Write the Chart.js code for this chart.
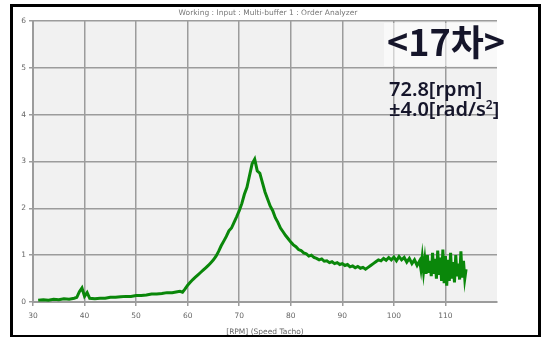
<!DOCTYPE html>
<html><head><meta charset="utf-8">
<script src="https://cdn.jsdelivr.net/npm/chart.js@4/dist/chart.umd.min.js"></script>
<style>
html,body{margin:0;padding:0;background:#fff;}
#wrap{position:relative;width:543px;height:337px;overflow:hidden;}
#frame{position:absolute;left:10px;top:4px;width:525px;height:328px;border:3px solid #000;background:#fff;}
#c{position:absolute;left:0;top:0;}
.t{position:absolute;white-space:nowrap;font-family:"Noto Sans CJK KR","Noto Sans",sans-serif;color:#15152a;}
#ttl{left:0;width:536px;top:8px;text-align:center;font-family:"DejaVu Sans",sans-serif;font-size:7.5px;color:#777;}
#ord{left:387px;top:17px;font-size:36px;font-weight:700;line-height:46px;}
#rpm{left:389px;top:77px;font-family:"Noto Sans",sans-serif;font-size:20px;font-weight:600;line-height:24px;}
#acc{left:389px;top:97px;font-family:"Noto Sans",sans-serif;font-size:20px;font-weight:600;line-height:24px;}
#acc sup{font-size:12px;vertical-align:7px;line-height:0;}
#box{position:absolute;left:384px;top:23px;width:113px;height:43px;background:rgba(255,255,255,0.55);}
</style></head>
<body><div id="wrap">
<div id="frame"></div>
<canvas id="c" width="543" height="337"></canvas>
<div id="ttl" class="t">Working : Input : Multi-buffer 1 : Order Analyzer</div>
<div id="box"></div>
<div id="ord" class="t">&lt;17차&gt;</div>
<div id="rpm" class="t">72.8[rpm]</div>
<div id="acc" class="t">±4.0[rad/s<sup>2</sup>]</div>
</div>
<script>
const xTitle = "[RPM] (Speed Tacho)";
const xTicks = [30,40,50,60,70,80,90,100,110];
const yTicks = [0,1,2,3,4,5,6];
const rpm = [31,32,33,34,35,36,37,38,38.5,39,39.5,40,40.5,41,42,43,44,45,46,47,48,49,50,51,52,53,54,55,56,57,58,58.5,59,59.5,
60,60.5,61,61.5,62,62.5,63,63.5,64,64.5,65,65.5,66,66.5,67,67.5,68,68.5,69,69.5,70,70.5,71,71.5,72,72.5,73,73.5,74,74.5,75,75.5,76,76.5,77,77.5,78,78.5,79,79.5,
80,80.5,81,81.5,82,82.5,83,83.5,84,84.5,85,85.5,86,86.5,87,87.5,88,88.5,89,89.5,90,90.5,91,91.5,92,92.5,93,93.5,94,94.5,95,95.5,96,96.5,97,97.5,98,98.5,99,99.5,
100,100.5,101,101.5,102,102.5,103,103.5,104,104.5,105,
105.25,105.5,105.75,106,106.25,106.5,106.75,107,107.25,107.5,107.75,108,108.25,108.5,108.75,109,109.25,109.5,109.75,110,110.25,110.5,110.75,111,111.25,111.5,111.75,112,112.25,112.5,112.75,113,113.25,113.5,113.75,114];
const amplitude = [0.04,0.05,0.04,0.06,0.05,0.07,0.06,0.08,0.1,0.22,0.3,0.12,0.2,0.08,0.07,0.08,0.08,0.1,0.1,0.11,0.12,0.12,0.14,0.14,0.15,0.17,0.17,0.18,0.2,0.2,0.22,0.23,0.21,0.28,
0.36,0.42,0.48,0.53,0.58,0.63,0.68,0.73,0.78,0.84,0.9,0.98,1.08,1.2,1.3,1.4,1.52,1.58,1.7,1.82,1.95,2.1,2.3,2.45,2.7,2.95,3.05,2.8,2.75,2.55,2.35,2.2,2.05,1.95,1.8,1.7,1.58,1.5,1.42,1.35,
1.28,1.22,1.18,1.12,1.1,1.05,1.03,0.98,1.0,0.95,0.93,0.9,0.92,0.87,0.88,0.84,0.86,0.82,0.84,0.8,0.82,0.78,0.8,0.75,0.77,0.73,0.76,0.72,0.74,0.7,0.74,0.78,0.82,0.86,0.9,0.88,0.93,0.89,0.95,0.9,
0.96,0.88,0.97,0.9,0.95,0.85,0.93,0.82,0.9,0.78,0.88,
0.7,0.95,0.65,0.9,0.6,1.0,0.62,0.88,0.55,1.05,0.6,0.92,0.5,1.1,0.58,0.95,0.45,1.12,0.4,0.98,0.35,0.9,0.45,1.05,0.5,0.85,0.42,1.0,0.55,0.82,0.48,1.08,0.52,0.88,0.5,0.7];

const bgPlugin = {
  id:'bg',
  beforeDraw(chart){
    const {ctx, chartArea:a} = chart;
    ctx.save(); ctx.fillStyle = '#f1f1f1';
    ctx.fillRect(a.left, a.top, a.right-a.left, a.bottom-a.top);
    ctx.restore();
  }
};

new Chart(document.getElementById('c'), {
  type:'line',
  data:{ datasets:[{
    data: rpm.map((x,i)=>({x, y: amplitude[i]})),
    borderColor:'#0a870a', borderWidth:3, pointRadius:0, tension:0, fill:false
  }]},
  options:{
    responsive:false, animation:false, devicePixelRatio:1,
    layout:{padding:{left:13,right:46,top:21,bottom:0}},
    plugins:{legend:{display:false}, tooltip:{enabled:false}},
    scales:{
      x:{type:'linear', min:30, max:120,
        afterBuildTicks(s){ s.ticks = xTicks.concat([120]).map(v=>({value:v})); },
        afterFit(s){ s.height = 35; },
        ticks:{font:{family:'DejaVu Sans',size:7.5}, color:'#666', padding:6, maxRotation:0,
          callback:(v)=> v===120 ? '' : String(v)},
        grid:{color:(c)=> c.tick && c.tick.value===120 ? 'rgba(0,0,0,0)' : '#9c9c9c', lineWidth:1.5, tickLength:4, drawOnChartArea:true},
        border:{display:true,color:'#9c9c9c',width:2},
        title:{display:true,text:xTitle,font:{family:'DejaVu Sans',size:7.5},color:'#666',padding:{top:-1,bottom:0}}
      },
      y:{min:0,max:6,
        afterBuildTicks(s){ s.ticks = yTicks.map(v=>({value:v})); },
        afterFit(s){ s.width = 20; },
        ticks:{font:{family:'DejaVu Sans',size:7.5}, color:'#666', padding:3},
        grid:{color:'#9c9c9c', lineWidth:1.5, tickLength:4},
        border:{display:true,color:'#9c9c9c',width:2}
      }
    }
  },
  plugins:[bgPlugin]
});
</script>
</body></html>
